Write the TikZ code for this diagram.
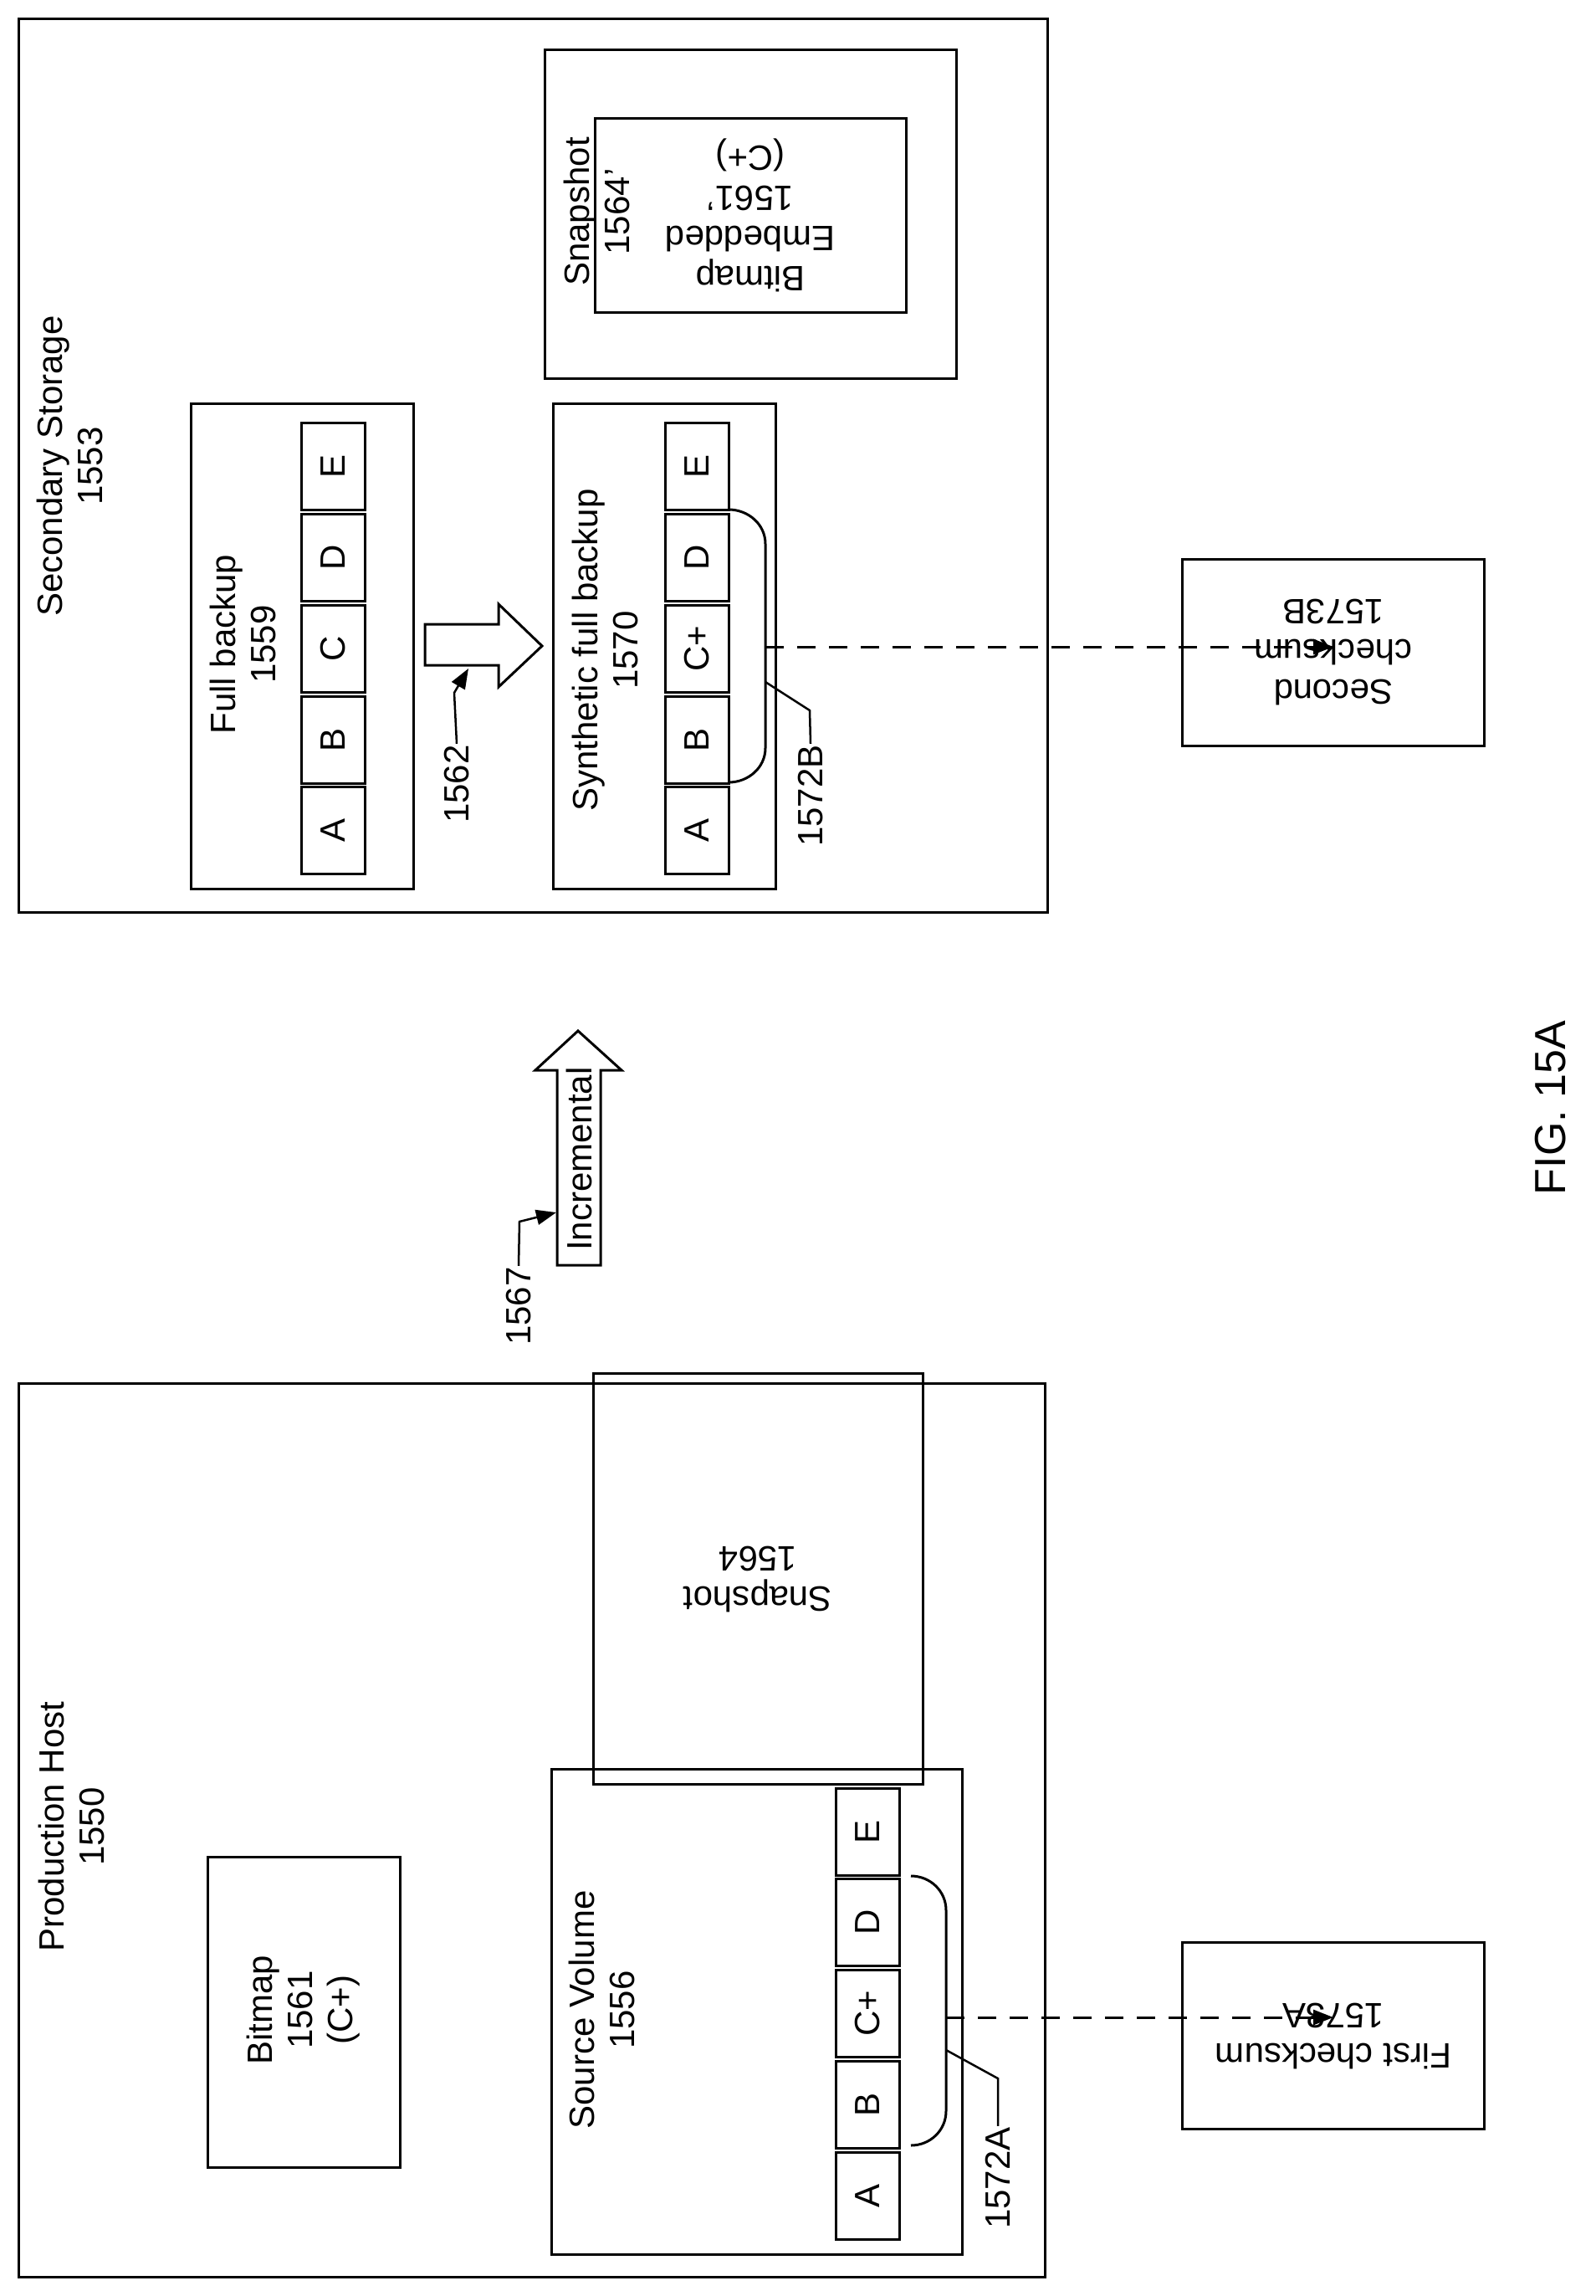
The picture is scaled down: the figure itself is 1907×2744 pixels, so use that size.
\documentclass[tikz,border=0pt]{standalone}
\usepackage{fontspec}
\setmainfont{Liberation Sans}
\usetikzlibrary{arrows.meta}
\begin{document}
\begin{tikzpicture}[x=1pt,y=-1pt,line width=3pt,
  txt/.style={rotate=90,align=center,font=\fontsize{42}{48}\selectfont,inner sep=0pt},
  box/.style={draw,rotate=90,inner sep=0pt},
  cell/.style={draw,rotate=90,inner sep=0pt,minimum width=104pt,minimum height=76pt,font=\fontsize{42}{48}\selectfont},
  tip/.style={-{Triangle[length=24pt,width=18pt]}},
  dasharr/.style={dashed,dash pattern=on 22pt off 16pt,-{Triangle[length=24pt,width=18pt]}}]
\useasboundingbox (0,0) rectangle (1907,2744);
% Secondary storage
\node[box,minimum width=1068pt,minimum height=1230pt] (sec) at (637,556) {};
\node[txt] (secl) at (83,557) {Secondary Storage\\1553};
\node[box,minimum width=580pt,minimum height=266pt] (fb) at (361,772) {};
\node[txt] (fbl) at (290,770) {Full backup\\1559};
\foreach \n/\t/\y in {fa/A/992,fbb/B/884,fc/C/775,fd/D/666,fe/E/557}
  \node[cell] (\n) at (398,\y) {\t};
\node[box,minimum width=580pt,minimum height=266pt] (sfb) at (794,772) {};
\node[txt] (sfbl) at (723,777) {Synthetic full backup\\1570};
\foreach \n/\t/\y in {sa/A/992,sb/B/884,sc/C+/775,sd/D/666,se/E/557}
  \node[cell] (\n) at (833,\y) {\t};
\node[box,minimum width=393pt,minimum height=492pt] (snp2) at (897,256) {};
\node[txt] (snp2l) at (713,253) {Snapshot\\1564'};
\node[box,minimum width=372pt,minimum height=232pt,txt] (bme) at (897,257) {Bitmap\\Embedded\\1561'\\(C+)};
% arrow 1562
\draw (508,746) -- (596,746) -- (596,722) -- (648,772) -- (596,821) -- (596,795) -- (508,795) -- cycle;
\node[txt,anchor=center] (l1562) at (546,937) {1562};
\coordinate (k1562) at (543,828);
\coordinate (t1562) at (560,799);
\draw[tip,line width=2.5pt] (l1562.east) -- (k1562) -- (t1562);
% brace B
\draw (871,609) to[out=0,in=90] (915,650) -- (915,894) to[out=-90,in=0] (871,935);
\coordinate (bB) at (915,773);
\coordinate (lkB) at (915,815);
\coordinate (kB) at (968,849);
\node[txt] (l1572B) at (969,951) {1572B};
\draw[line width=2.5pt] (lkB) -- (kB) -- (l1572B.east);
% checksums
\node[box,minimum width=361pt,minimum height=223pt,txt] (chkB) at (1594,780) {Second\\checksum\\1573B};
\draw[dasharr] (bB) -- (bB -| chkB.north);
% incremental
\draw (666,1512) -- (666,1279) -- (640,1279) -- (691,1232) -- (743,1279) -- (718,1279) -- (718,1512) -- cycle;
\node[txt] (inc) at (692,1385) {Incremental};
\node[txt] (l1567) at (620,1561) {1567};
\coordinate (k1567) at (621,1460);
\coordinate (t1567) at (665,1449);
\draw[tip,line width=2.5pt] (l1567.east) -- (k1567) -- (t1567);
% production host
\node[box,minimum width=1068pt,minimum height=1227pt] (ph) at (636,2187) {};
\node[txt] (phl) at (85,2183) {Production Host\\1550};
\node[box,minimum width=371pt,minimum height=230pt] (bm) at (363,2405) {};
\node[txt] (bml) at (363,2402) {Bitmap\\1561\\(C+)};
\node[box,minimum width=394pt,minimum height=491pt,txt] (snp) at (906,1887) {Snapshot\\1564};
\node[box,minimum width=580pt,minimum height=491pt] (sv) at (905,2404) {};
\node[txt] (svl) at (719,2402) {Source Volume\\1556};
\foreach \n/\t/\y in {va/A/2624,vb/B/2515,vc/C+/2406,vd/D/2297,ve/E/2189}
  \node[cell] (\n) at (1037,\y) {\t};
\draw (1089,2242) to[out=0,in=90] (1131,2283) -- (1131,2523) to[out=-90,in=0] (1089,2564);
\coordinate (bA) at (1131,2411);
\coordinate (lkA) at (1131,2450);
\coordinate (kA) at (1193,2484);
\node[txt] (l1572A) at (1193,2603) {1572A};
\draw[line width=2.5pt] (lkA) -- (kA) -- (l1572A.east);
\node[box,minimum width=361pt,minimum height=223pt,txt] (chkA) at (1594,2433) {First checksum\\1573A};
\draw[dasharr] (bA) -- (bA -| chkA.north);
\node[rotate=90,font=\fontsize{52}{60}\selectfont,inner sep=0pt] (fig) at (1854,1324) {FIG. 15A};
\end{tikzpicture}
\end{document}
